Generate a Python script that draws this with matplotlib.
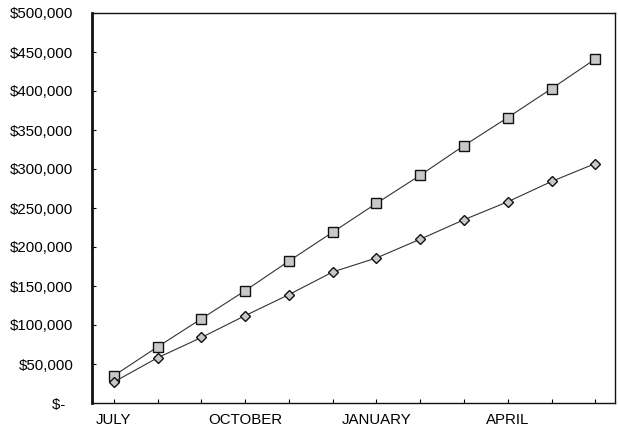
import matplotlib
matplotlib.use("Agg")
import matplotlib.pyplot as plt
from matplotlib.ticker import FuncFormatter, MultipleLocator

months = ["JULY", "AUGUST", "SEPTEMBER", "OCTOBER", "NOVEMBER", "DECEMBER",
          "JANUARY", "FEBRUARY", "MARCH", "APRIL", "MAY", "JUNE"]
series_square = [35000, 72000, 108000, 144000, 182000, 219000,
                 256000, 292000, 330000, 366000, 403000, 441000]
series_diamond = [27000, 58000, 84000, 112000, 139000, 168000,
                  186000, 210000, 235000, 258000, 284000, 307000]
shown_labels = ["JULY", "OCTOBER", "JANUARY", "APRIL"]

plt.rcParams['font.family'] = ['Liberation Sans', 'DejaVu Sans']

fig = plt.figure(figsize=(6.18, 4.34), dpi=100)
ax = fig.add_axes([92/618, 31/434, (615-92)/618, (403-13)/434])

x = list(range(len(months)))
ax.plot(x, series_square, color='#333333', lw=0.8, marker='s', ms=7,
        mfc='#c8c8c8', mec='#111111', mew=1.0)
ax.plot(x, series_diamond, color='#333333', lw=0.8, marker='D', ms=5.5,
        mfc='#c8c8c8', mec='#111111', mew=1.0)

ax.set_xlim(-0.5, 11.45)
ax.set_ylim(0, 500000)
ax.yaxis.set_major_locator(MultipleLocator(50000))

def fmt(v, pos):
    if v == 0:
        return "$-\u00a0\u00a0"
    return "${:,.0f}".format(v)
ax.yaxis.set_major_formatter(FuncFormatter(fmt))

ax.set_xticks(x)
ax.set_xticklabels([m if m in shown_labels else "" for m in months])
ax.tick_params(axis='y', direction='in', length=3, pad=13.5, labelsize=10.8, width=0.8)
ax.tick_params(axis='x', direction='in', length=3, pad=7, labelsize=10.8, width=0.8)

for s in ax.spines.values():
    s.set_linewidth(1.0)
    s.set_color('#111111')
ax.spines['left'].set_linewidth(2.0)

fig.savefig("out.png", dpi=100)
